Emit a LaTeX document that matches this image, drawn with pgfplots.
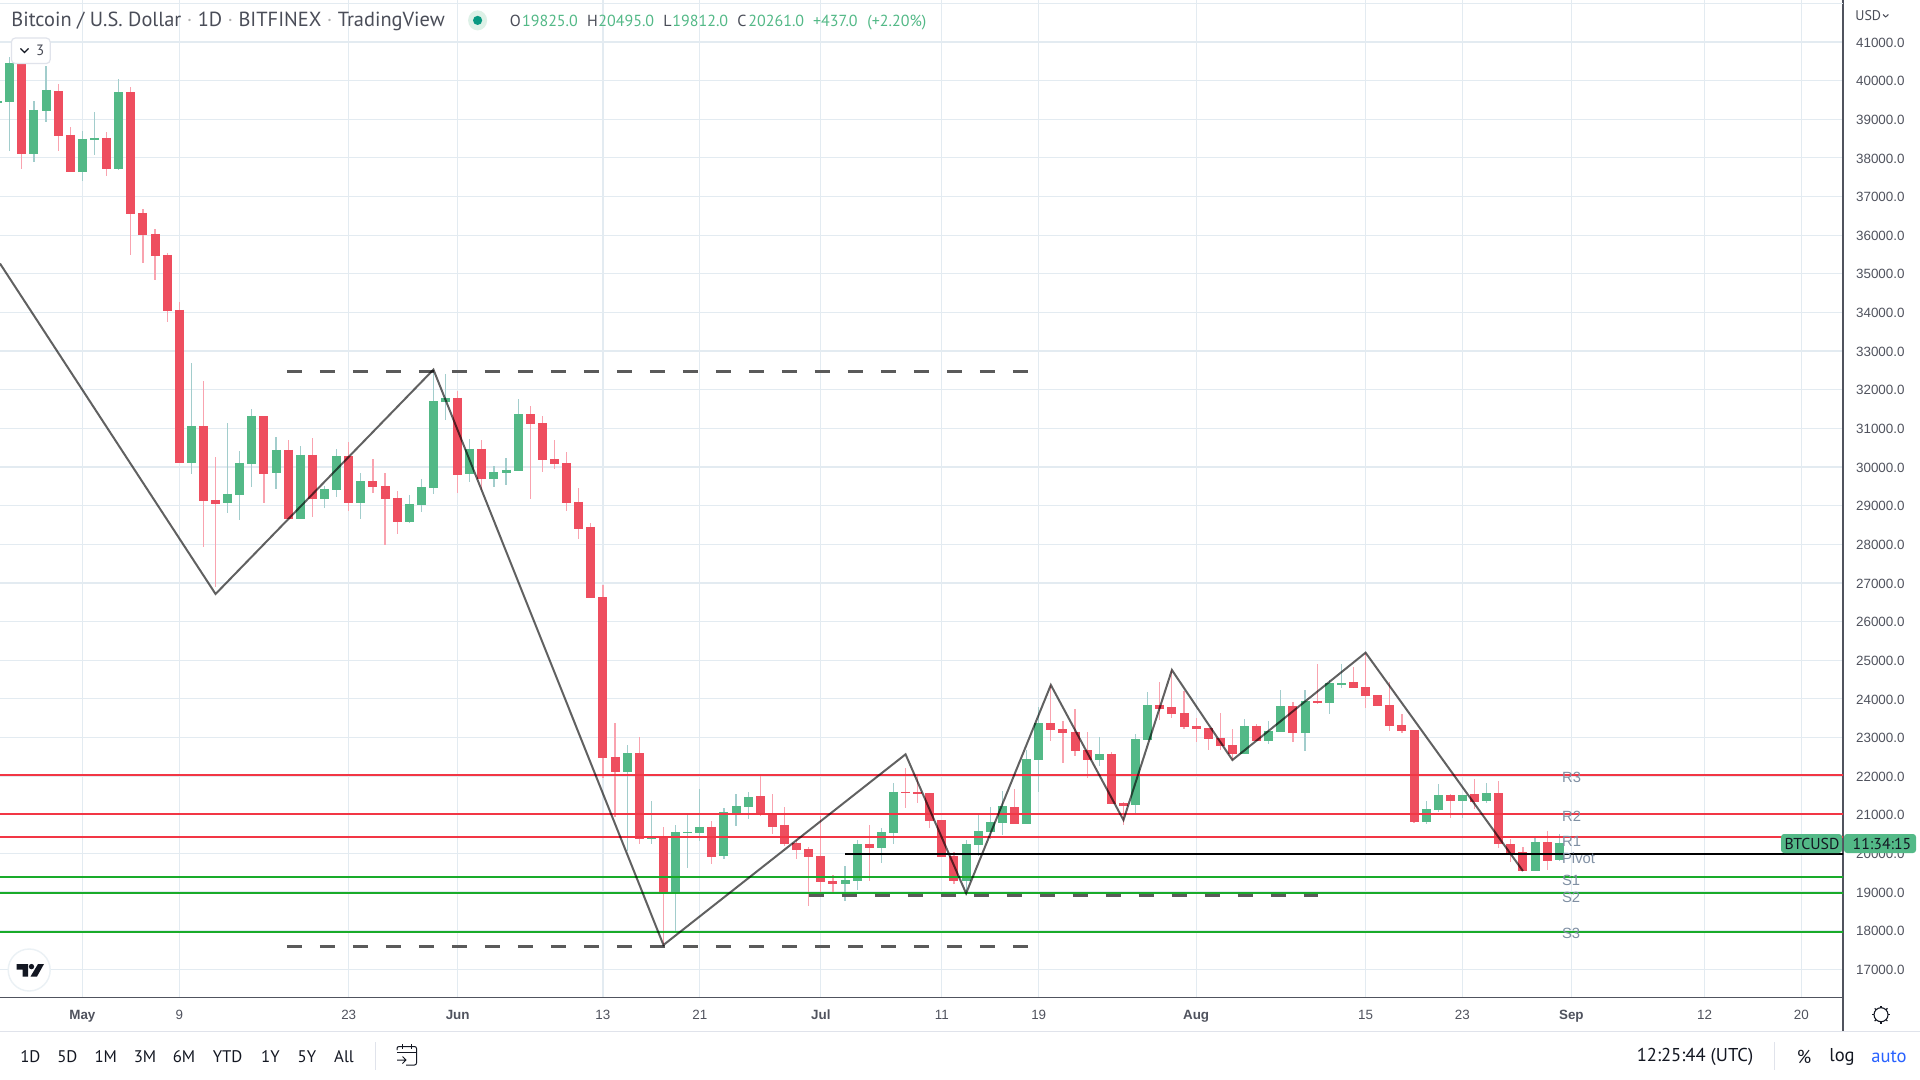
\documentclass[border=0pt]{standalone}
\usepackage{fontspec}
\usepackage{pgfplots}
\usepackage{pgfplotstable}
\pgfplotsset{compat=1.18}
\setmainfont{Liberation Sans}
\newfontfamily\hdr{PT Sans}
\newcommand{\fs}[1]{\fontsize{#1}{#1}\selectfont}

\definecolor{upbody}{HTML}{53B987}
\definecolor{dnbody}{HTML}{EE4E5F}
\definecolor{upwick}{HTML}{A2CDCC}
\definecolor{dnwick}{HTML}{F9A3AF}
\definecolor{gridc}{HTML}{E3EBF1}
\definecolor{axisc}{HTML}{50535E}
\definecolor{sepc}{HTML}{E0E3EB}
\definecolor{resc}{HTML}{F23645}
\definecolor{supc}{HTML}{19AB2A}
\definecolor{lblc}{HTML}{7F8FA3}
\definecolor{txtc}{HTML}{131722}
\definecolor{hdrc}{HTML}{4A4D58}
\definecolor{dashc}{HTML}{5A5A5A}
\definecolor{dotc}{HTML}{089981}
\definecolor{autoc}{HTML}{2962FF}

% d = days after 1 May; top/bot = candle body
\pgfplotstableread{
d top bot hi lo
-5 40422 38102 40700 37723
-2 39729 38564 39914 38176
-1 38592 37631 38796 37631
2 38518 37714 38666 37538
4 39701 36550 39822 35487
5 36577 36004 36670 35283
6 36032 35459 36161 34840
7 35487 34035 35533 33749
8 34063 30107 34266 30107
10 31059 29118 32224 27917
11 29146 29044 30255 26900
15 31318 29820 31318 29072
17 30440 28656 30699 28656
19 30311 29173 30754 28702
22 30283 29072 30643 28859
24 29636 29479 30209 29331
25 29506 29173 29848 27981
26 29201 28573 29377 28268
31 31789 29793 31965 29331
33 30467 29691 30699 29405
37 31371 31112 31578 29180
38 31138 30180 31319 29870
39 30206 30077 30698 29948
40 30103 29068 30388 28860
41 29094 28395 29456 28136
42 28447 26609 28550 26609
43 26635 22469 26945 21960
44 22495 22106 23374 20950
46 22598 20372 23012 20243
48 20424 18984 20674 17629
52 20683 19906 20838 19725
56 21485 20993 22029 20968
57 21019 20683 21537 20502
58 20735 20243 21200 20191
59 20269 20088 20346 19855
60 20113 19906 20165 18638
61 19932 19259 20968 19001
62 19285 19208 19441 19001
65 20243 20139 20735 19285
68 21589 21563 22200 21175
69 21589 21537 22000 21304
70 21563 20838 21563 20657
71 20864 19906 20864 19906
72 19932 19285 20036 19208
77 21200 20760 21666 20760
80 23374 23193 24358 22909
81 23219 23116 23426 22339
82 23142 22650 23737 22520
83 22675 22416 23141 21950
85 22572 21277 22623 21277
86 21303 21226 21329 20734
89 23840 23736 24435 23451
90 23788 23607 24745 23503
91 23633 23270 24202 23219
92 23296 23219 23503 22882
93 23244 22960 23244 22675
94 22986 22779 23633 22675
95 22804 22571 23219 22416
97 23296 22908 23348 22908
100 23814 23115 23917 22882
102 23943 23891 24901 23866
105 24435 24280 24823 24280
106 24305 24073 25190 23762
107 24098 23814 24098 23814
108 23840 23296 24435 23167
109 23322 23167 23607 23115
110 23193 20812 23193 20786
113 21510 21355 21536 20915
115 21536 21329 21924 21148
117 21562 20242 21873 20139
118 20242 19983 20372 19776
119 20035 19544 20165 19544
121 20294 19802 20579 19569
}\redbars

\pgfplotstableread{
d top bot hi lo
-7 39460 39430 39460 39430
-6 40459 39452 40607 38176
-4 39239 38102 39470 37899
-3 39757 39211 40376 38916
0 38490 37631 38694 37409
1 38518 38463 39184 38075
3 39701 37714 40043 37696
9 31059 30107 32695 29820
12 29303 29072 31133 28813
13 30107 29275 30412 28638
14 31318 30079 31503 29478
16 30440 29848 30773 29423
18 30311 28656 30542 28656
20 29432 29173 29515 28942
21 30283 29405 30468 29220
23 29636 29072 29848 28656
27 29044 28573 29275 28545
28 29479 29016 29691 28832
29 31706 29460 32520 29303
30 31789 31678 32409 31216
32 30467 29820 30726 29608
34 29867 29691 30024 29479
35 29922 29848 30237 29534
36 31371 29896 31761 29896
45 22598 22106 22805 20070
47 20398 20372 21356 20243
49 20553 18983 20735 17974
50 20553 20527 20993 19622
51 20683 20527 21666 20320
53 21071 19932 21175 19855
54 21226 21037 21537 20709
55 21459 21200 21589 20890
63 19311 19208 19673 18768
64 20243 19285 20346 19052
66 20553 20139 20657 19751
67 21589 20527 21822 20243
73 20243 19285 20346 18923
74 20579 20217 20993 19932
75 20812 20553 21200 20372
76 21226 20786 21615 20476
78 22443 20760 22675 20760
79 23374 22417 23789 21589
84 22572 22416 23012 22261
87 22960 21252 23089 21045
88 23840 22934 24176 22934
96 23296 22571 23477 22571
98 23167 22908 23426 22830
99 23814 23141 24228 23141
101 23943 23115 24228 22649
103 24409 23891 24480 23607
104 24409 24357 24901 24280
111 21148 20812 21355 20760
112 21510 21122 21795 21070
114 21510 21355 21510 20915
116 21562 21355 21821 21303
120 20294 19544 20398 19544
122 20261 19825 20495 19812
}\greenbars

\begin{document}
\begin{tikzpicture}
\fill[white] (0,0) rectangle (960pt,-540pt);
\useasboundingbox (0,0) rectangle (960pt,-540pt);
\begin{axis}[
    scale only axis,
    width=921.5pt, height=498.65pt,
    at={(0,-498.65pt)}, anchor=south west,
    xmin=-6.807, xmax=145.44,
    ymin=16275.4, ymax=42085.4,
    axis x line*=bottom,
    axis y line*=right,
    axis line style={line width=0.55pt, axisc},
    tick style={draw=none},
    major tick length=0pt,
    grid=major,
    grid style={line width=0.6pt, gridc},
    ytick={17000,18000,...,41000},
    extra y ticks={42000},
    extra y tick labels={},
    xtick={0,8,22,31,43,51,61,71,79,92,106,114,123,134,142},
    xticklabels={\textbf{May},9,23,\textbf{Jun},13,21,\textbf{Jul},11,19,\textbf{Aug},15,23,\textbf{Sep},12,20},
    tick label style={font=\fs{6.7}, text=axisc},
    yticklabel style={anchor=west, inner sep=0pt, xshift=6.35pt, yshift=-0.3pt,
        /pgf/number format/.cd, fixed, fixed zerofill, precision=1,
        1000 sep={}, assume math mode=true},
    scaled y ticks=false,
    xticklabel style={anchor=base, inner sep=0pt, yshift=-11pt},
]
% wicks
\addplot[draw=none, mark=none, forget plot,
    error bars/.cd, y dir=both, y explicit, error mark=none,
    error bar style={line width=0.6pt, dnwick}]
    table[x=d, y=top, y error plus expr=\thisrow{hi}-\thisrow{top},
          y error minus expr=\thisrow{top}-\thisrow{lo}] {\redbars};
\addplot[draw=none, mark=none, forget plot,
    error bars/.cd, y dir=both, y explicit, error mark=none,
    error bar style={line width=0.6pt, upwick}]
    table[x=d, y=top, y error plus expr=\thisrow{hi}-\thisrow{top},
          y error minus expr=\thisrow{top}-\thisrow{lo}] {\greenbars};
% bodies
\addplot[draw=none, mark=none, forget plot,
    error bars/.cd, y dir=minus, y explicit, error mark=none,
    error bar style={line width=4.5pt, dnbody}]
    table[x=d, y=top, y error minus expr=\thisrow{top}-\thisrow{bot}] {\redbars};
\addplot[draw=none, mark=none, forget plot,
    error bars/.cd, y dir=minus, y explicit, error mark=none,
    error bar style={line width=4.5pt, upbody}]
    table[x=d, y=top, y error minus expr=\thisrow{top}-\thisrow{bot}] {\greenbars};

% dashed levels
\addplot[line width=1.5pt, dashc, dash pattern=on 7.75pt off 8.75pt] coordinates {(16.9,32473)(78.2,32473)};
\addplot[line width=1.5pt, dashc, dash pattern=on 7.75pt off 8.75pt] coordinates {(16.9,17603)(78.2,17603)};
\addplot[line width=1.5pt, dashc, dash pattern=on 7.75pt off 8.75pt] coordinates {(60,18923)(102.1,18923)};

% pivot points
\addplot[line width=0.85pt, resc] coordinates {(-7,22037)(146,22037)};
\addplot[line width=0.85pt, resc] coordinates {(-7,21019)(146,21019)};
\addplot[line width=0.85pt, resc] coordinates {(-7,20424)(146,20424)};
\addplot[line width=0.85pt, black] coordinates {(63,19984)(146,19984)};
\addplot[line width=0.85pt, supc] coordinates {(-7,19389)(146,19389)};
\addplot[line width=0.85pt, supc] coordinates {(-7,18974)(146,18974)};
\addplot[line width=0.85pt, supc] coordinates {(-7,17965)(146,17965)};

% zigzag
\addplot[line width=1pt, black, opacity=0.62] coordinates {
    (-6.807,35265)(11,26713)(29,32520)(48,17629)(68,22564)(73,18966)
    (80,24358)(86,20863)(90,24746)(95,22416)(106,25194)(119,19544)};
\end{axis}

% chart furniture, in reference pixels
\begin{scope}[x=0.5pt,y=-0.5pt]
\draw[line width=0.55pt, axisc] (1843,997) -- (1843,1031);
\draw[line width=0.6pt, sepc] (0,1031.7) -- (1920,1031.7);
\draw[line width=0.6pt, sepc] (375.4,1042) -- (375.4,1070);
\draw[line width=0.6pt, sepc] (1774.3,1042) -- (1774.3,1070);

% header
\node[anchor=base west, inner sep=0pt, font=\hdr\fs{10.2}, text=hdrc] at (11,27)
    {Bitcoin / U.S. Dollar \textcolor{gray!60}{·} 1D \textcolor{gray!60}{·} BITFINEX \textcolor{gray!60}{·} TradingView};
\fill[upbody!20] (477.6,20.4) ellipse (9.5 and 10);
\fill[dotc] (477.6,20.4) circle (4.6);
\foreach \x/\t in {509.5/O,586.6/H,663/L,737/C}
    \node[anchor=base west, inner sep=0pt, font=\hdr\fs{8}, text=hdrc] at (\x,26.5) {\t};
\foreach \x/\t in {521.7/19825.0,598/20495.0,672/19812.0,748/20261.0,812.6/+437.0,867/(+2.20\%)}
    \node[anchor=base west, inner sep=0pt, font=\hdr\fs{8}, text=upbody] at (\x,26.5) {\t};

% collapse button
\draw[sepc, fill=white, rounded corners=2pt, line width=0.6pt] (11.4,38) rectangle (50.2,63.6);
\draw[txtc, line width=0.6pt] (20.5,48.5) -- (24.5,52.5) -- (28.5,48.5);
\node[font=\hdr\fs{7.5}, text=hdrc, inner sep=0pt] at (40.3,50.5) {3};

% logo
\draw[gridc!70!white, fill=white, line width=0.7pt] (29.2,970) circle (21);
\fill[txtc] (16.5,964) -- (28,964) -- (28,976.5) -- (22.5,976.5) -- (22.5,969.5) -- (16.5,969.5) -- cycle;
\fill[txtc] (31.5,966.6) circle (2.7);
\fill[txtc] (38,964) -- (44,964) -- (37,976.5) -- (30.5,976.5) -- cycle;

% pivot labels
\foreach \y/\t in {777.7/R3,816.7/R2,841.7/R1,858/Pivot,880/S1,897.7/S2,933.7/S3}
    \node[anchor=west, inner sep=0pt, font=\fs{7.4}, text=lblc] at (1561.7,\y) {\t};

% price badges
\fill[upbody, rounded corners=1.5pt] (1781,834) rectangle (1842,853);
\fill[upbody, rounded corners=1.5pt] (1844,834) rectangle (1916,853);
\node[font=\hdr\fs{7.9}, text=txtc, inner sep=0pt] at (1812,843.5) {BTCUSD};
\node[font=\hdr\fs{7.9}, text=txtc, inner sep=0pt] at (1882,843.5) {11:34:15};

% currency
\node[anchor=west, inner sep=0pt, font=\hdr\fs{7}, text=hdrc] at (1855,15.7) {USD};
\draw[hdrc, line width=0.5pt] (1883,14.5) -- (1885.7,17) -- (1888.4,14.5);

% settings icon
\draw[txtc, line width=0.55pt] (1881,1014.7) circle (7);
\foreach \a in {0,45,...,315}
    \draw[txtc, line width=0.55pt] (1881,1014.7) ++(\a:7) -- ++(\a:2);

% bottom toolbar
\foreach \x/\t in {30.4/1D,67.4/5D,105.8/1M,145/3M,184/6M,227.7/YTD,270.5/1Y,307/5Y,344/All}
    \node[font=\hdr\fs{8.4}, text=txtc, inner sep=0pt] at (\x,1056.7) {\t};
\draw[txtc, line width=0.5pt, rounded corners=1pt] (397,1050) -- (397,1046.5) -- (416.5,1046.5) -- (416.5,1065) -- (406,1065);
\draw[txtc, line width=0.5pt] (397,1052) -- (416.5,1052);
\draw[txtc, line width=0.5pt] (402,1044) -- (402,1049) (411.5,1044) -- (411.5,1049);
\draw[txtc, line width=0.5pt] (397,1060) -- (406,1060) (402.5,1056.5) -- (406,1060) -- (402.5,1063.5);
\node[font=\hdr\fs{9.3}, text=txtc, inner sep=0pt] at (1695,1056.7) {12:25:44 (UTC)};
\node[font=\hdr\fs{9.3}, text=txtc, inner sep=0pt] at (1804,1056.7) {\%};
\node[font=\hdr\fs{9.3}, text=txtc, inner sep=0pt] at (1842,1056.7) {log};
\node[font=\hdr\fs{9.3}, text=autoc, inner sep=0pt] at (1889,1056.7) {auto};
\end{scope}
\end{tikzpicture}
\end{document}
